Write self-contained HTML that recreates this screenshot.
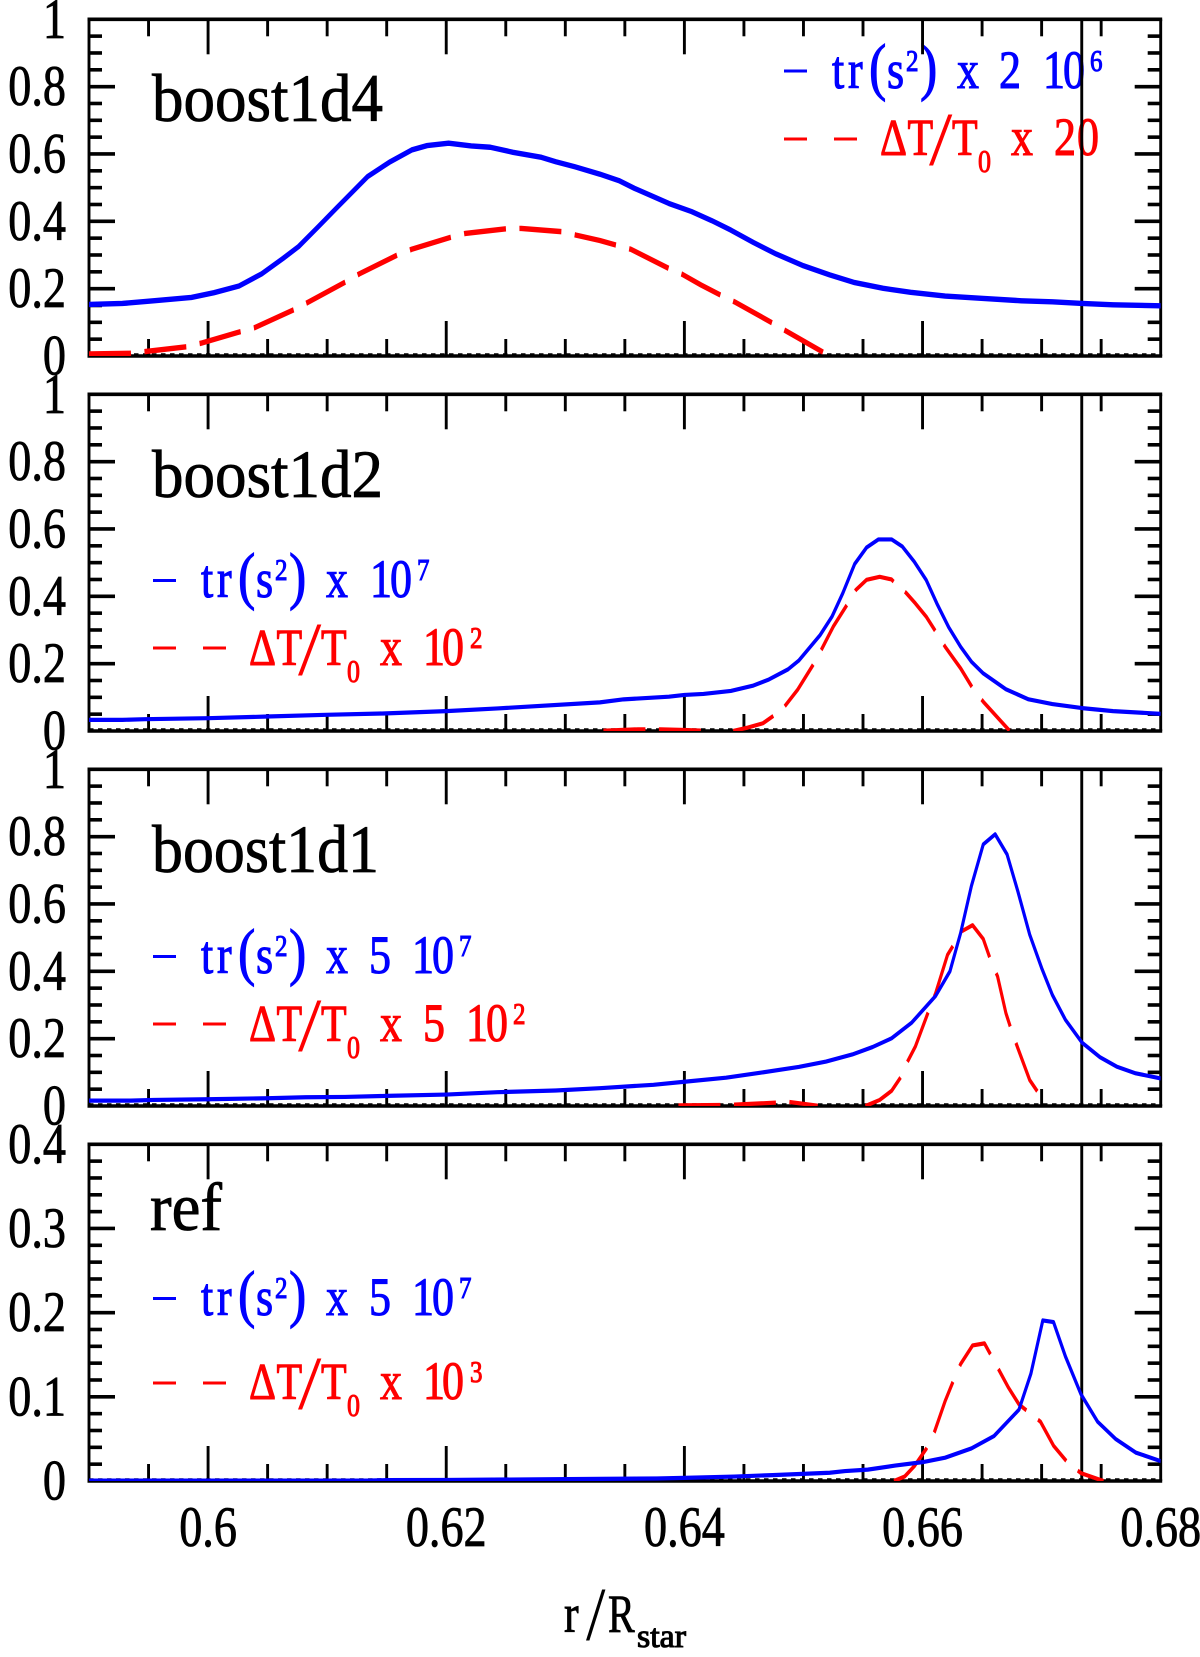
<!DOCTYPE html>
<html lang="en">
<head>
<meta charset="utf-8">
<title>tr(s2) and temperature perturbation profiles</title>
<style>
html,body{margin:0;padding:0;background:#fff;}
svg{display:block;}
text{font-family:"Liberation Serif","DejaVu Serif",serif;}
.blue{fill:#00f;stroke:#00f;stroke-width:.85;}
.red{fill:#f00;stroke:#f00;stroke-width:.85;}
.blk{fill:#000;stroke:#000;stroke-width:.6;}
.slash{stroke-width:0;}
</style>
</head>
<body>
<svg id="chart" xmlns="http://www.w3.org/2000/svg" width="1200" height="1657" viewBox="0 0 1200 1657">
  <rect width="1200" height="1657" fill="#fff"/>
  <defs>
    <clipPath id="clip0"><rect x="89" y="19.3" width="1071.7" height="336.7"/></clipPath>
    <clipPath id="clip1"><rect x="89" y="394.3" width="1071.7" height="336.7"/></clipPath>
    <clipPath id="clip2"><rect x="89" y="769.3" width="1071.7" height="336.7"/></clipPath>
    <clipPath id="clip3"><rect x="89" y="1144.3" width="1071.7" height="336.7"/></clipPath>
  </defs>

  <!-- Panel titles -->
  <text class="blk" transform="translate(152,121) scale(1,1.35)" font-size="50" textLength="231" lengthAdjust="spacingAndGlyphs">boost1d4</text>
  <text class="blk" transform="translate(152,497) scale(1,1.35)" font-size="50" textLength="231" lengthAdjust="spacingAndGlyphs">boost1d2</text>
  <text class="blk" transform="translate(152,872) scale(1,1.35)" font-size="50" textLength="227" lengthAdjust="spacingAndGlyphs">boost1d1</text>
  <text class="blk" transform="translate(150,1230) scale(1,1.35)" font-size="50" textLength="72" lengthAdjust="spacingAndGlyphs">ref</text>

  <!-- Legend: boost1d4 -->
  <g transform="translate(784,88)">
    <rect x="0" y="-18.5" width="23" height="3" fill="#00f"/>
    <text class="blue" transform="scale(1,1.227)" font-size="44"><tspan x="48 64" y="0">tr</tspan><tspan x="85" y="0" font-size="52">(</tspan><tspan x="103" y="0">s</tspan><tspan x="122" y="-13.9" font-size="25">2</tspan><tspan x="136" y="0" font-size="52">)</tspan><tspan x="173" y="0">x</tspan><tspan x="215" y="0">2</tspan><tspan x="259 279" y="0">10</tspan><tspan x="306" y="-13.9" font-size="25">6</tspan></text>
  </g>
  <g transform="translate(784,155)">
    <rect x="0" y="-17.5" width="23" height="3" fill="#f00"/>
    <rect x="50" y="-17.5" width="23" height="3" fill="#f00"/>
    <text class="red" transform="scale(1,1.227)" font-size="44"><tspan x="96" y="0" font-size="42">Δ</tspan><tspan x="123.5" y="0" font-size="42">T</tspan><tspan x="168" y="0" font-size="42">T</tspan><tspan x="194" y="13.9" font-size="26">0</tspan><tspan x="227" y="0">x</tspan><tspan x="270 293" y="0">20</tspan></text>
    <text class="red slash" transform="translate(145,10) scale(2.1,1.9)" font-size="40">/</text>
  </g>

  <!-- Legend: boost1d2 -->
  <g transform="translate(153,597)">
    <rect x="0" y="-18" width="23" height="3" fill="#00f"/>
    <text class="blue" transform="scale(1,1.227)" font-size="44"><tspan x="48 64" y="0">tr</tspan><tspan x="85" y="0" font-size="52">(</tspan><tspan x="103" y="0">s</tspan><tspan x="122" y="-13.9" font-size="25">2</tspan><tspan x="136" y="0" font-size="52">)</tspan><tspan x="173" y="0">x</tspan><tspan x="217 237" y="0">10</tspan><tspan x="264" y="-13.9" font-size="25">7</tspan></text>
  </g>
  <g transform="translate(153,665)">
    <rect x="0" y="-18.5" width="23" height="3" fill="#f00"/>
    <rect x="50" y="-18.5" width="23" height="3" fill="#f00"/>
    <text class="red" transform="scale(1,1.227)" font-size="44"><tspan x="96" y="0" font-size="42">Δ</tspan><tspan x="123.5" y="0" font-size="42">T</tspan><tspan x="168" y="0" font-size="42">T</tspan><tspan x="194" y="13.9" font-size="26">0</tspan><tspan x="227" y="0">x</tspan><tspan x="270 289" y="0">10</tspan><tspan x="317" y="-13.9" font-size="25">2</tspan></text>
    <text class="red slash" transform="translate(145,10) scale(2.1,1.9)" font-size="40">/</text>
  </g>

  <!-- Legend: boost1d1 -->
  <g transform="translate(153,973)">
    <rect x="0" y="-18" width="23" height="3" fill="#00f"/>
    <text class="blue" transform="scale(1,1.227)" font-size="44"><tspan x="48 64" y="0">tr</tspan><tspan x="85" y="0" font-size="52">(</tspan><tspan x="103" y="0">s</tspan><tspan x="122" y="-13.9" font-size="25">2</tspan><tspan x="136" y="0" font-size="52">)</tspan><tspan x="173" y="0">x</tspan><tspan x="216" y="0">5</tspan><tspan x="259 279" y="0">10</tspan><tspan x="306" y="-13.9" font-size="25">7</tspan></text>
  </g>
  <g transform="translate(153,1041)">
    <rect x="0" y="-18.5" width="23" height="3" fill="#f00"/>
    <rect x="50" y="-18.5" width="23" height="3" fill="#f00"/>
    <text class="red" transform="scale(1,1.227)" font-size="44"><tspan x="96" y="0" font-size="42">Δ</tspan><tspan x="123.5" y="0" font-size="42">T</tspan><tspan x="168" y="0" font-size="42">T</tspan><tspan x="194" y="13.9" font-size="26">0</tspan><tspan x="227" y="0">x</tspan><tspan x="270" y="0">5</tspan><tspan x="313 333" y="0">10</tspan><tspan x="360" y="-13.9" font-size="25">2</tspan></text>
    <text class="red slash" transform="translate(145,10) scale(2.1,1.9)" font-size="40">/</text>
  </g>

  <!-- Legend: ref -->
  <g transform="translate(153,1315)">
    <rect x="0" y="-18" width="23" height="3" fill="#00f"/>
    <text class="blue" transform="scale(1,1.227)" font-size="44"><tspan x="48 64" y="0">tr</tspan><tspan x="85" y="0" font-size="52">(</tspan><tspan x="103" y="0">s</tspan><tspan x="122" y="-13.9" font-size="25">2</tspan><tspan x="136" y="0" font-size="52">)</tspan><tspan x="173" y="0">x</tspan><tspan x="216" y="0">5</tspan><tspan x="259 279" y="0">10</tspan><tspan x="306" y="-13.9" font-size="25">7</tspan></text>
  </g>
  <g transform="translate(153,1399)">
    <rect x="0" y="-17.5" width="23" height="3" fill="#f00"/>
    <rect x="50" y="-17.5" width="23" height="3" fill="#f00"/>
    <text class="red" transform="scale(1,1.227)" font-size="44"><tspan x="96" y="0" font-size="42">Δ</tspan><tspan x="123.5" y="0" font-size="42">T</tspan><tspan x="168" y="0" font-size="42">T</tspan><tspan x="194" y="13.9" font-size="26">0</tspan><tspan x="227" y="0">x</tspan><tspan x="270 289" y="0">10</tspan><tspan x="317" y="-13.9" font-size="25">3</tspan></text>
    <text class="red slash" transform="translate(145,10) scale(2.1,1.9)" font-size="40">/</text>
  </g>

  <!-- X axis title -->
  <g>
    <text class="blk" transform="translate(564,1632) scale(1.1,1.35)" font-size="40">r</text>
    <text class="blk slash" transform="translate(586,1640) scale(1.75,1.9)" font-size="40">/</text>
    <text class="blk" transform="translate(608,1632) scale(1,1.35)" font-size="40">R</text>
    <text class="blk" transform="translate(637,1647) scale(1,1.35)" font-size="24" textLength="49" lengthAdjust="spacingAndGlyphs" style="stroke-width:.8">star</text>
  </g>

  <g id="axes"></g>
  <g id="curves"></g>
</svg>

<script>
// ---- Axis tick values ----
const xMajorTicks = [0.6, 0.62, 0.64, 0.66, 0.68];
const xMinorTicks = [0.595, 0.605, 0.61, 0.615, 0.625, 0.63, 0.635, 0.645, 0.65, 0.655, 0.665, 0.67, 0.675];
const xTickLabels = ['0.6', '0.62', '0.64', '0.66', '0.68'];
const yMajorFull = [0, 0.2, 0.4, 0.6, 0.8, 1];
const yLabelsFull = ['0', '0.2', '0.4', '0.6', '0.8', '1'];
const yMinorFull = [0.05, 0.1, 0.15, 0.25, 0.3, 0.35, 0.45, 0.5, 0.55, 0.65, 0.7, 0.75, 0.85, 0.9, 0.95];
const yMajorRef = [0, 0.1, 0.2, 0.3, 0.4];
const yLabelsRef = ['0', '0.1', '0.2', '0.3', '0.4'];
const yMinorRef = [0.02, 0.04, 0.06, 0.08, 0.12, 0.14, 0.16, 0.18, 0.22, 0.24, 0.26, 0.28, 0.32, 0.34, 0.36, 0.38];
const surfaceRadius = 0.67337;
const xDomain = [0.59, 0.68];

// ---- Panel boost1d4 ----
const boost1d4TrR = [0.59,0.5928,0.5954,0.5986,0.6005,0.6026,0.6045,0.6063,0.6076,0.6092,0.6108,0.6134,0.6153,0.6171,0.6184,0.6202,0.6221,0.6237,0.6256,0.628,0.6292,0.6308,0.6329,0.6345,0.6358,0.6371,0.6387,0.6406,0.6423,0.6439,0.6458,0.6477,0.65,0.6522,0.6543,0.6567,0.659,0.6619,0.6651,0.6683,0.6709,0.6734,0.676,0.68];
const boost1d4TrV = [0.153,0.156,0.164,0.174,0.188,0.208,0.244,0.29,0.325,0.382,0.44,0.533,0.577,0.612,0.625,0.632,0.624,0.62,0.605,0.59,0.577,0.562,0.54,0.521,0.498,0.478,0.453,0.429,0.402,0.374,0.337,0.303,0.268,0.241,0.218,0.201,0.189,0.178,0.171,0.164,0.161,0.156,0.152,0.149];
const boost1d4DtR = [0.59,0.5934,0.5947,0.5983,0.5994,0.6024,0.6039,0.6073,0.6082,0.6116,0.6127,0.6159,0.6171,0.6205,0.6216,0.6251,0.6263,0.6298,0.6309,0.6329,0.6342,0.6355,0.6387,0.6398,0.6414,0.6432,0.6442,0.6476,0.6485,0.6521];
const boost1d4DtV = [0.006,0.008,0.013,0.028,0.038,0.069,0.084,0.139,0.156,0.221,0.244,0.3,0.317,0.354,0.364,0.378,0.379,0.369,0.359,0.343,0.33,0.317,0.26,0.243,0.211,0.178,0.161,0.094,0.075,0.002];

// ---- Panel boost1d2 (negative values are not plotted: the curve breaks there) ----
const boost1d2TrR = [0.59,0.5928,0.5947,0.6,0.605,0.6099,0.6147,0.62,0.6243,0.6329,0.6349,0.6387,0.64,0.6416,0.6439,0.6458,0.6471,0.6487,0.6496,0.6514,0.6524,0.6533,0.6543,0.6553,0.6563,0.6574,0.6583,0.6593,0.6603,0.6612,0.6622,0.6632,0.6641,0.6651,0.667,0.6689,0.6709,0.6734,0.676,0.68];
const boost1d2TrV = [0.033,0.033,0.035,0.038,0.043,0.048,0.052,0.059,0.067,0.085,0.094,0.102,0.107,0.11,0.119,0.135,0.153,0.183,0.209,0.285,0.34,0.409,0.496,0.545,0.569,0.569,0.548,0.503,0.449,0.379,0.308,0.25,0.206,0.171,0.124,0.094,0.08,0.068,0.059,0.051];
const boost1d2DtR = [0.6332,0.6361,0.638,0.64,0.6415,0.6426,0.6441,0.6453,0.6466,0.6474,0.6484,0.6495,0.6508,0.6515,0.6525,0.6537,0.6544,0.6553,0.6564,0.6574,0.6577,0.6586,0.6594,0.6603,0.6612,0.6619,0.6632,0.6643,0.6651,0.6673];
const boost1d2DtV = [0.001,0.005,0.005,0.003,0.001,-0.003,0,0.01,0.023,0.043,0.072,0.122,0.196,0.241,0.31,0.377,0.419,0.449,0.458,0.45,0.439,0.411,0.379,0.34,0.29,0.25,0.186,0.122,0.087,0.001];

// ---- Panel boost1d1 ----
const boost1d1TrR = [0.59,0.5935,0.5954,0.6,0.605,0.6082,0.6115,0.615,0.62,0.6243,0.6292,0.6329,0.6374,0.64,0.6435,0.6464,0.6496,0.6519,0.6541,0.6558,0.6574,0.6591,0.6611,0.6623,0.6632,0.6641,0.6651,0.6661,0.6671,0.668,0.669,0.67,0.6709,0.672,0.6734,0.6749,0.6763,0.6779,0.68];
const boost1d1TrV = [0.016,0.016,0.018,0.02,0.023,0.026,0.027,0.03,0.034,0.041,0.046,0.053,0.063,0.072,0.084,0.099,0.116,0.132,0.153,0.175,0.201,0.248,0.327,0.4,0.514,0.653,0.777,0.807,0.747,0.638,0.509,0.41,0.33,0.256,0.188,0.145,0.117,0.097,0.082];
const boost1d1DtR = [0.6395,0.6431,0.6442,0.6477,0.6488,0.6512,0.6525,0.6552,0.6564,0.6574,0.6582,0.6587,0.6594,0.6605,0.6611,0.6621,0.6627,0.6633,0.6642,0.6651,0.6657,0.6663,0.667,0.6675,0.668,0.669,0.6699,0.6703];
const boost1d1DtV = [0.002,0.003,0.004,0.01,0.012,0.001,-0.007,0,0.018,0.045,0.087,0.129,0.177,0.281,0.335,0.449,0.484,0.519,0.537,0.496,0.435,0.385,0.276,0.221,0.172,0.077,0.03,0.002];

// ---- Panel ref ----
const refTrR = [0.59,0.6,0.6134,0.615,0.62,0.6276,0.6329,0.6377,0.64,0.6442,0.6474,0.6522,0.6535,0.6554,0.6577,0.66,0.6619,0.6641,0.666,0.6681,0.6691,0.6701,0.671,0.672,0.6733,0.6747,0.6762,0.6779,0.68];
const refTrV = [0.0005,0.0005,0.0005,0.001,0.0012,0.002,0.0025,0.003,0.0037,0.0053,0.007,0.0098,0.0118,0.0135,0.0183,0.0224,0.0277,0.0387,0.0534,0.0848,0.1276,0.1908,0.1888,0.148,0.1032,0.0705,0.0501,0.0338,0.0236];
const refDtR = [0.6576,0.6585,0.6593,0.6603,0.661,0.6619,0.6626,0.6632,0.6642,0.6652,0.6658,0.6665,0.6672,0.6681,0.6689,0.6699,0.671,0.6722,0.6733,0.6752];
const refDtV = [0,0.0053,0.0175,0.0379,0.0583,0.095,0.1195,0.139,0.161,0.1635,0.148,0.1297,0.1113,0.091,0.082,0.0705,0.042,0.0216,0.0094,0];

// ---- Geometry (axis functions) ----
const NS = 'http://www.w3.org/2000/svg';
const SY = 1.35;           // reference raster is stretched vertically
const LEFT = 89, RIGHT = 1160.7, PANEL_H = 336.7;
const panelBottoms = [356, 731, 1106, 1481];
const axesLayer = document.getElementById('axes');
const curvesLayer = document.getElementById('curves');

function xScale(r) { return LEFT + (r - xDomain[0]) / (xDomain[1] - xDomain[0]) * (RIGHT - LEFT); }
function yScale(v, bottom, yMax) { return bottom - v / yMax * PANEL_H; }

function svgEl(tag, parent, attrs) {
  const el = document.createElementNS(NS, tag);
  Object.keys(attrs).forEach(function (k) { el.setAttribute(k, attrs[k]); });
  parent.appendChild(el);
  return el;
}

function drawLabel(parent, text, x, y, anchor) {
  const t = svgEl('text', parent, {
    transform: 'translate(' + x + ',' + y + ') scale(1.1,' + SY + ')',
    'font-size': 42, 'text-anchor': anchor,
    fill: '#000', stroke: '#000', 'stroke-width': 0.6
  });
  t.textContent = text;
  return t;
}

function drawAxes(bottom, yMax, yMajor, yMinor, yLabels, showXLabels) {
  const g = svgEl('g', axesLayer, { stroke: '#000', 'stroke-width': 2.9, fill: 'none' });
  
  
  const top = bottom - PANEL_H;

  const dots = svgEl('line', g, { x1: LEFT, x2: RIGHT, y1: bottom - 2, y2: bottom - 2, 'stroke-dasharray': '4.5 4.5', 'stroke-width': 1.4 });
  
  

  xMajorTicks.concat(xMinorTicks).forEach(function (r, i) {
    if (r >= xDomain[1]) return;
    const len = i < xMajorTicks.length ? 35 : 17;
    const x = xScale(r);
    const lower = svgEl('line', g, { x1: x, x2: x, y1: bottom, y2: bottom - len });
    
    
    const upper = svgEl('line', g, { x1: x, x2: x, y1: top, y2: top + len });
    
    
  });

  yMajor.concat(yMinor).forEach(function (v, i) {
    if (v <= 0 || v >= yMax) return;
    const len = i < yMajor.length ? 26 : 13;
    const y = yScale(v, bottom, yMax);
    const lt = svgEl('line', g, { x1: LEFT, x2: LEFT + len, y1: y, y2: y, 'stroke-width': 3.6 });
    
    
    const rt = svgEl('line', g, { x1: RIGHT, x2: RIGHT - len, y1: y, y2: y, 'stroke-width': 3.6 });
    
    
  });

  const vline = svgEl('line', g, { x1: xScale(surfaceRadius), x2: xScale(surfaceRadius), y1: top, y2: bottom, 'stroke-width': 2.9 });
  
  

  const frameTop = svgEl('line', g, { x1: LEFT - 1.5, x2: RIGHT + 1.5, y1: top, y2: top, 'stroke-width': 3.6 });
  
  
  const frameBottom = svgEl('line', g, { x1: LEFT - 1.5, x2: RIGHT + 1.5, y1: bottom, y2: bottom, 'stroke-width': 3.6 });
  
  
  const frameLeft = svgEl('line', g, { x1: LEFT, x2: LEFT, y1: top, y2: bottom, 'stroke-width': 2.9 });
  
  
  const frameRight = svgEl('line', g, { x1: RIGHT, x2: RIGHT, y1: top, y2: bottom, 'stroke-width': 2.9 });
  
  

  yMajor.forEach(function (v, i) {
    const lab = drawLabel(g, yLabels[i], 66, yScale(v, bottom, yMax) + 18.5, 'end');
    
    
  });

  if (showXLabels) {
    xMajorTicks.forEach(function (r, i) {
      const lab = drawLabel(g, xTickLabels[i], xScale(r), 1546, 'middle');
      
      
    });
  }
}

// Negative values are skipped; each positive run becomes its own subpath, so dashes restart.
function curvePath(rs, vs, bottom, yMax) {
  let d = '';
  let pen = false;
  rs.forEach(function (r, i) {
    if (vs[i] < 0) { pen = false; return; }
    d += (pen ? 'L' : 'M') + xScale(r).toFixed(2) + ' ' + (yScale(vs[i], bottom, yMax) / SY).toFixed(2);
    pen = true;
  });
  return d;
}

function drawCurve(idx, rs, vs, yMax, color, width, dash) {
  const clip = svgEl('g', curvesLayer, { 'clip-path': 'url(#clip' + idx + ')' });
  
  
  const g = svgEl('g', clip, { transform: 'scale(1,' + SY + ')' });
  const line = svgEl('path', g, {
    d: curvePath(rs, vs, panelBottoms[idx], yMax),
    fill: 'none', stroke: color, 'stroke-width': width, 'stroke-linejoin': 'round'
  });
  if (dash) line.setAttribute('stroke-dasharray', dash);
  return line;
}

drawAxes(panelBottoms[0], 1, yMajorFull, yMinorFull, yLabelsFull, false);
drawAxes(panelBottoms[1], 1, yMajorFull, yMinorFull, yLabelsFull, false);
drawAxes(panelBottoms[2], 1, yMajorFull, yMinorFull, yLabelsFull, false);
drawAxes(panelBottoms[3], 0.4, yMajorRef, yMinorRef, yLabelsRef, true);

const DASH = '42 13.5';
const s1 = drawCurve(0, boost1d4DtR, boost1d4DtV, 1, '#f00', 4, DASH);


const s2 = drawCurve(0, boost1d4TrR, boost1d4TrV, 1, '#00f', 4, null);


const s3 = drawCurve(1, boost1d2DtR, boost1d2DtV, 1, '#f00', 3.1, DASH);


const s4 = drawCurve(1, boost1d2TrR, boost1d2TrV, 1, '#00f', 3.1, null);


const s5 = drawCurve(2, boost1d1DtR, boost1d1DtV, 1, '#f00', 3.1, DASH);


const s6 = drawCurve(2, boost1d1TrR, boost1d1TrV, 1, '#00f', 3.1, null);


const s7 = drawCurve(3, refDtR, refDtV, 0.4, '#f00', 3.1, DASH);


const s8 = drawCurve(3, refTrR, refTrV, 0.4, '#00f', 3.1, null);


</script>
</body>
</html>
